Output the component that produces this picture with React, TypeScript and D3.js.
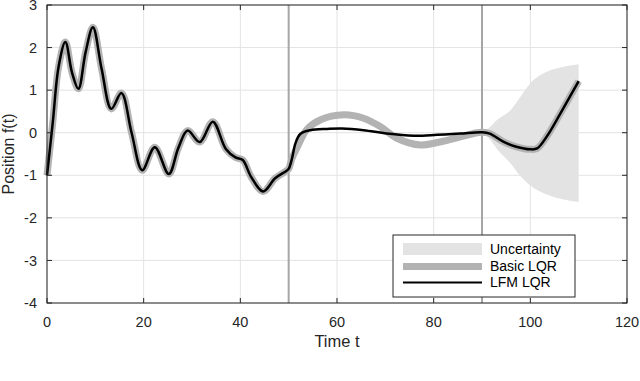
import React from "react";
import * as d3 from "d3";

const width = 640;
const height = 381;
const margin = { top: 5, right: 13, bottom: 78, left: 47 };

// LFM LQR trajectory (time, position)
const lfmT = [0, 1.2, 2.4, 3.8, 5.2, 6.5, 8.0, 9.5, 11.3, 13.3, 15.4, 17.5, 19.7, 22.3, 25.2, 27.2, 29.1, 31.6, 34.3, 37.0, 39.0, 40.5, 42.2, 44.7, 47.2, 49.5, 50.0, 50.7, 51.4, 52.4, 54.5, 58, 61, 65.5, 70.3, 75.9, 80.7, 85.5, 90, 91.6, 94.4, 97.1, 100, 101.4, 103.4, 106.2, 110];
const lfmY = [-1.0, 0.25, 1.55, 2.13, 1.4, 1.03, 1.9, 2.48, 1.5, 0.56, 0.93, 0.0, -0.88, -0.34, -0.97, -0.35, 0.05, -0.22, 0.26, -0.38, -0.58, -0.64, -1.03, -1.38, -1.07, -0.9, -0.85, -0.6, -0.25, -0.03, 0.06, 0.09, 0.1, 0.06, -0.02, -0.07, -0.05, -0.02, 0.01, -0.02, -0.21, -0.33, -0.39, -0.37, -0.09, 0.45, 1.21];

// Basic LQR differs from LFM between t=50 and t=90
const basicMidT = [50.0, 50.7, 51.7, 53.8, 56.5, 61.4, 65.5, 69, 72.4, 77.3, 80.7, 84.8, 89, 90];
const basicMidY = [-0.85, -0.6, -0.36, 0.08, 0.3, 0.42, 0.34, 0.14, -0.13, -0.29, -0.23, -0.12, 0.0, 0.01];

// uncertainty band
const bandT = [90, 91.3, 93.1, 95.9, 98, 100, 103.4, 106.9, 110];
const bandUpper = [0.01, 0.1, 0.3, 0.53, 0.85, 1.16, 1.43, 1.55, 1.61];
const bandLower = [0.01, -0.12, -0.38, -0.72, -1.03, -1.24, -1.45, -1.57, -1.63];

const xTicks = [0, 20, 40, 60, 80, 100, 120];
const yTicks = [-4, -3, -2, -1, 0, 1, 2, 3];
const switchTimes = [50, 90];

const legendItems = ["Uncertainty", "Basic LQR", "LFM LQR"];

const font = "'Liberation Sans', Arial, Helvetica, sans-serif";

export default function App() {
  const x = d3.scaleLinear().domain([0, 120]).range([margin.left, width - margin.right]);
  const y = d3.scaleLinear().domain([-4, 3]).range([height - margin.bottom, margin.top]);

  const lfm = lfmT.map((t, i) => [t, lfmY[i]] as [number, number]);
  const basic = [
    ...lfm.filter((d) => d[0] < 50),
    ...basicMidT.map((t, i) => [t, basicMidY[i]] as [number, number]),
    ...lfm.filter((d) => d[0] > 90),
  ];
  const band = bandT.map((t, i) => ({ t, hi: bandUpper[i], lo: bandLower[i] }));

  const line = d3
    .line<[number, number]>()
    .x((d) => x(d[0]))
    .y((d) => y(d[1]))
    .curve(d3.curveCatmullRom.alpha(0.5));

  const area = d3
    .area<{ t: number; hi: number; lo: number }>()
    .x((d) => x(d.t))
    .y0((d) => y(d.lo))
    .y1((d) => y(d.hi))
    .curve(d3.curveMonotoneX);

  const [x0, x1] = x.range();
  const [y0, y1] = y.range();
  const axisColor = "#262626";
  const tickLen = 5;

  const lg = { x: 393, y: 235, w: 182, h: 62 };
  const rowY = [249, 266.5, 282.5];

  return (
    <svg width={width} height={height} style={{ position: "absolute", left: 0, top: 0 }} fontFamily={font}>
      <rect x={0} y={0} width={width} height={height} fill="#fff" />
      {/* grid */}
      {xTicks.map((t) => (
        <line key={`gx${t}`} x1={x(t)} x2={x(t)} y1={y1} y2={y0} stroke="#e3e3e3" strokeWidth={1} />
      ))}
      {yTicks.map((t) => (
        <line key={`gy${t}`} x1={x0} x2={x1} y1={y(t)} y2={y(t)} stroke="#e3e3e3" strokeWidth={1} />
      ))}

      <path d={area(band) ?? ""} fill="#e3e3e3" />

      {switchTimes.map((t) => (
        <line key={`sw${t}`} x1={x(t)} x2={x(t)} y1={y1} y2={y0} stroke="#a6a6a6" strokeWidth={2} />
      ))}

      <path d={line(basic) ?? ""} fill="none" stroke="#b3b3b3" strokeWidth={7} strokeLinejoin="round" />
      <path d={line(lfm) ?? ""} fill="none" stroke="#000" strokeWidth={2.5} strokeLinejoin="round" />

      {/* axes box + ticks */}
      <rect x={x0} y={y1} width={x1 - x0} height={y0 - y1} fill="none" stroke={axisColor} strokeWidth={1} />
      {xTicks.map((t) => (
        <g key={`tx${t}`}>
          <line x1={x(t)} x2={x(t)} y1={y0} y2={y0 - tickLen} stroke={axisColor} />
          <line x1={x(t)} x2={x(t)} y1={y1} y2={y1 + tickLen} stroke={axisColor} />
          <text x={x(t)} y={y0 + 24} textAnchor="middle" fontSize={14.5} fill="#262626">
            {t}
          </text>
        </g>
      ))}
      {yTicks.map((t) => (
        <g key={`ty${t}`}>
          <line x1={x0} x2={x0 + tickLen} y1={y(t)} y2={y(t)} stroke={axisColor} />
          <line x1={x1} x2={x1 - tickLen} y1={y(t)} y2={y(t)} stroke={axisColor} />
          <text x={x0 - 10} y={y(t)} dy="0.35em" textAnchor="end" fontSize={14.5} fill="#262626">
            {t}
          </text>
        </g>
      ))}

      <text x={(x0 + x1) / 2} y={347} textAnchor="middle" fontSize={16.5} fill="#262626">
        Time t
      </text>
      <text
        transform={`translate(14,${(y0 + y1) / 2}) rotate(-90)`}
        textAnchor="middle"
        fontSize={16}
        fill="#262626"
      >
        Position f(t)
      </text>

      {/* legend */}
      <rect x={lg.x} y={lg.y} width={lg.w} height={lg.h} fill="#fff" stroke={axisColor} strokeWidth={1} />
      <rect x={403} y={rowY[0] - 6} width={79} height={12} fill="#e3e3e3" />
      <line x1={403} x2={482} y1={rowY[1]} y2={rowY[1]} stroke="#b3b3b3" strokeWidth={7} />
      <line x1={403} x2={482} y1={rowY[2]} y2={rowY[2]} stroke="#000" strokeWidth={2} />
      {legendItems.map((d, i) => (
        <text key={d} x={490} y={rowY[i]} dy="0.35em" fontSize={14} fill="#000">
          {d}
        </text>
      ))}
    </svg>
  );
}
